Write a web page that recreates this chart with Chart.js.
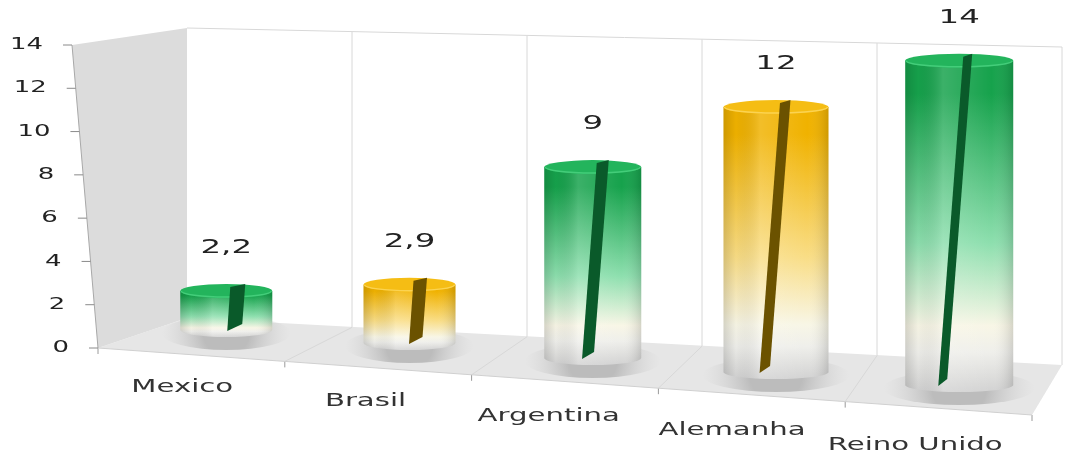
<!DOCTYPE html>
<html>
<head>
<meta charset="utf-8">
<script src="https://cdn.jsdelivr.net/npm/chart.js@4.4.0/dist/chart.umd.min.js"></script>
<style>
  html, body { margin: 0; padding: 0; background: #fff; }
  #wrap { width: 1085px; height: 455px; }
</style>
</head>
<body>
<div id="wrap"><canvas id="grafico" width="1085" height="455"></canvas></div>
<script>
// Dados do gráfico
const paises = ['Mexico', 'Brasil', 'Argentina', 'Alemanha', 'Reino Unido'];
const valores = [2.2, 2.9, 9, 12, 14];
const rotulos = ['2,2', '2,9', '9', '12', '14'];
const tiposCor = ['verde', 'amarelo', 'verde', 'amarelo', 'verde'];
const yTicks = [0, 2, 4, 6, 8, 10, 12, 14];

// Estilo dos cilindros (perspectiva)
const larguras = [92, 92, 97, 105, 108];
const descidaBase = [-18, -5, 10, 24, 37];     // deslocamento vertical da base (profundidade)
const escalaAltura = [0.82, 0.93, 0.98, 1.02, 1.07];
const PALETA = {
    verde:   { topo: '#16a24c', meio: '#8ddfae', tampa: '#23b45c', borda: '#44cd7a', faixa: '#0a5a2a' },
    amarelo: { topo: '#f0b200', meio: '#f9dd85', tampa: '#f5bd14', borda: '#fbd352', faixa: '#6b5200' }
};
const FONTE = '"DejaVu Sans", "Liberation Sans", sans-serif';
const ESTICA = 1.62;   // texto mais largo, como no original

function textoLargo(ctx, txt, x, y, tam, cor, alinhar) {
    ctx.save();
    ctx.font = tam + 'px ' + FONTE;
    ctx.fillStyle = cor;
    ctx.textBaseline = 'middle';
    ctx.textAlign = 'left';
    const w = ctx.measureText(txt).width * ESTICA;
    let x0 = x - w / 2;
    if (alinhar === 'right') x0 = x - w;
    ctx.translate(x0, y);
    ctx.scale(ESTICA, 1);
    ctx.fillText(txt, 0, 0);
    ctx.restore();
}

// Desenha paredes, chão e eixo Y em perspectiva
const fundo3d = {
    id: 'fundo3d',
    beforeDatasetsDraw(chart) {
        const { ctx, chartArea: a } = chart;
        const ys = chart.scales.y;
        const fl = { x: 98, y: a.bottom };          // frente-esquerda
        const bl = { x: 187, y: a.bottom - 30 };    // fundo-esquerda
        const br = { x: 1062, y: a.bottom + 17 };   // fundo-direita
        const fr = { x: 1032, y: a.bottom + 67 };   // frente-direita
        const topoE = a.top - 17, topoD = a.top + 2;
        ctx.save();
        // chão
        ctx.fillStyle = '#e6e6e6';
        ctx.beginPath();
        ctx.moveTo(fl.x, fl.y);
        ctx.lineTo(bl.x, bl.y);
        ctx.lineTo(br.x, br.y);
        ctx.lineTo(fr.x, fr.y);
        ctx.closePath();
        ctx.fill();
        // parede lateral
        ctx.fillStyle = '#dcdcdc';
        ctx.beginPath();
        ctx.moveTo(72, a.top);
        ctx.lineTo(bl.x, topoE);
        ctx.lineTo(bl.x, bl.y);
        ctx.lineTo(fl.x, fl.y);
        ctx.closePath();
        ctx.fill();
        // linhas da parede do fundo e do chão
        ctx.strokeStyle = '#d8d8d8';
        ctx.lineWidth = 1;
        ctx.beginPath();
        ctx.moveTo(bl.x, topoE);
        ctx.lineTo(br.x, topoD);
        ctx.lineTo(br.x, br.y);
        ctx.stroke();
        for (let i = 1; i < paises.length; i++) {
            const t = i / paises.length;
            const bx = bl.x + (br.x - bl.x) * t - 10, by = bl.y + (br.y - bl.y) * t;
            const fx = fl.x + (fr.x - fl.x) * t, fy = fl.y + (fr.y - fl.y) * t;
            ctx.beginPath();
            ctx.moveTo(bx, topoE + (topoD - topoE) * t);
            ctx.lineTo(bx, by);
            ctx.lineTo(fx, fy);
            ctx.stroke();
        }
        // marcas do eixo de categorias
        ctx.strokeStyle = '#9a9a9a';
        for (let i = 0; i <= paises.length; i++) {
            const t = i / paises.length;
            const fx = fl.x + (fr.x - fl.x) * t, fy = fl.y + (fr.y - fl.y) * t;
            ctx.beginPath();
            ctx.moveTo(fx, fy);
            ctx.lineTo(fx, fy + 6);
            ctx.stroke();
        }
        ctx.beginPath();
        ctx.moveTo(fl.x, fl.y);
        ctx.lineTo(fr.x, fr.y);
        ctx.strokeStyle = '#d0d0d0';
        ctx.stroke();
        // eixo Y inclinado
        const xEixo = v => 72 + (98 - 72) * (1 - v / 14);
        ctx.strokeStyle = '#a8a8a8';
        ctx.beginPath();
        ctx.moveTo(xEixo(14), ys.getPixelForValue(14));
        ctx.lineTo(xEixo(0), ys.getPixelForValue(0));
        ctx.stroke();
        yTicks.forEach(v => {
            const py = ys.getPixelForValue(v), px = xEixo(v);
            ctx.strokeStyle = '#8a8a8a';
            ctx.beginPath();
            ctx.moveTo(px - 9, py);
            ctx.lineTo(px, py);
            ctx.stroke();
            textoLargo(ctx, String(v), px - 29, py, 16, '#222', 'right');
        });
        ctx.restore();
    }
};

// Desenha os cilindros a partir das posições das barras
const cilindros = {
    id: 'cilindros',
    afterDatasetsDraw(chart) {
        const { ctx, chartArea: a } = chart;
        const meta = chart.getDatasetMeta(0);
        meta.data.forEach((bar, i) => {
            const cor = PALETA[tiposCor[i]];
            const cx = bar.x;
            const base = bar.base + descidaBase[i];
            const topo = base - (bar.base - bar.y) * escalaAltura[i];
            const rx = larguras[i] / 2, ry = 7;
            ctx.save();

            // sombra
            const sombra = ctx.createRadialGradient(cx, base + 3, rx * 0.5, cx, base + 3, rx * 1.4);
            sombra.addColorStop(0, 'rgba(125,125,125,0.4)');
            sombra.addColorStop(1, 'rgba(190,190,190,0)');
            ctx.fillStyle = sombra;
            ctx.beginPath();
            ctx.ellipse(cx, base + 3, rx * 1.4, 17, 0, 0, Math.PI * 2);
            ctx.fill();

            // corpo
            const grad = ctx.createLinearGradient(0, topo, 0, base + ry);
            grad.addColorStop(0, cor.topo);
            grad.addColorStop(0.1, cor.topo);
            grad.addColorStop(0.55, cor.meio);
            grad.addColorStop(0.8, '#f8f6e6');
            grad.addColorStop(0.88, '#efefeb');
            grad.addColorStop(1, '#d2d2d2');
            ctx.fillStyle = grad;
            ctx.beginPath();
            ctx.moveTo(cx - rx, topo);
            ctx.lineTo(cx - rx, base);
            ctx.ellipse(cx, base, rx, ry, 0, Math.PI, 0, true);
            ctx.lineTo(cx + rx, topo);
            ctx.closePath();
            ctx.fill();

            // sombreado horizontal
            const lado = ctx.createLinearGradient(cx - rx, 0, cx + rx, 0);
            lado.addColorStop(0, 'rgba(0,0,0,0.14)');
            lado.addColorStop(0.12, 'rgba(0,0,0,0.02)');
            lado.addColorStop(0.35, 'rgba(255,255,255,0.16)');
            lado.addColorStop(0.8, 'rgba(255,255,255,0.0)');
            lado.addColorStop(1, 'rgba(0,0,0,0.14)');
            ctx.fillStyle = lado;
            ctx.fill();

            // tampa
            ctx.fillStyle = cor.tampa;
            ctx.beginPath();
            ctx.ellipse(cx, topo, rx, ry, 0, 0, Math.PI * 2);
            ctx.fill();
            ctx.strokeStyle = cor.borda;
            ctx.lineWidth = 1.5;
            ctx.beginPath();
            ctx.ellipse(cx, topo, rx - 1, ry - 1, 0, 0, Math.PI);
            ctx.stroke();

            // faixa escura
            const alt = base - topo;
            const dx = alt * 0.077;
            const lf = 15 - i * 1.5;
            ctx.fillStyle = cor.faixa;
            ctx.beginPath();
            ctx.moveTo(cx + 4, topo - 4);
            ctx.lineTo(cx + 4 + lf, topo - 7);
            ctx.lineTo(cx + 4 + lf - dx, base - 6);
            ctx.lineTo(cx + 4 - dx, base + 1);
            ctx.closePath();
            ctx.fill();

            // rótulo de valor
            textoLargo(ctx, rotulos[i], cx, topo - 43, 20, '#222');

            // rótulo da categoria (escalonado pela perspectiva)
            textoLargo(ctx, paises[i], cx - 44, a.bottom + 39 + i * 14.5, 18, '#333');
            ctx.restore();
        });
    }
};

const ctx = document.getElementById('grafico').getContext('2d');
new Chart(ctx, {
    type: 'bar',
    data: {
        datasets: [{
            data: valores.map((v, i) => ({ x: i, y: v })),
            backgroundColor: 'rgba(0,0,0,0)',
            borderWidth: 0,
            barThickness: 90
        }]
    },
    options: {
        responsive: false,
        animation: false,
        layout: { padding: { top: 45, bottom: 107, left: 30, right: 25 } },
        plugins: {
            legend: { display: false },
            tooltip: { enabled: false }
        },
        scales: {
            x: {
                type: 'linear',
                offset: false,
                min: -0.7,
                max: 4.55,
                display: false
            },
            y: {
                min: 0,
                max: 14,
                afterFit(scale) { scale.width = 68; },
                ticks: { stepSize: 2, display: false },
                grid: { display: false },
                border: { display: false }
            }
        }
    },
    plugins: [fundo3d, cilindros]
});
</script>
</body>
</html>
